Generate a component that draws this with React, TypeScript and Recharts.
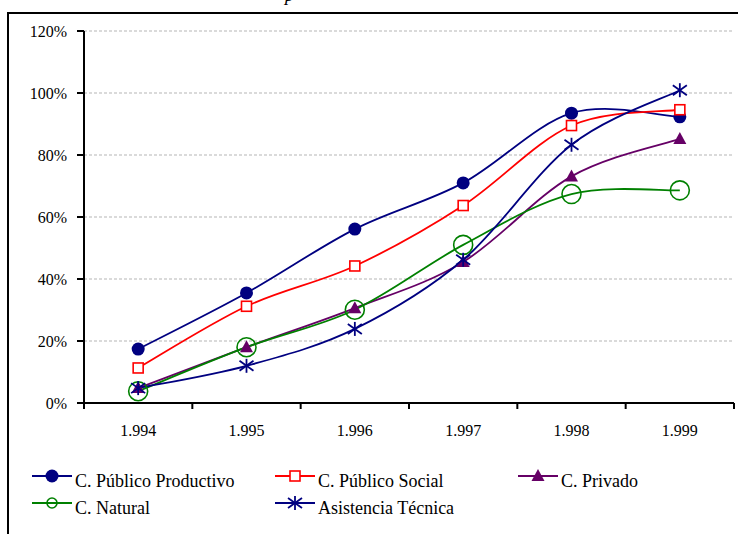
import React from 'react'
import { LineChart, Line, XAxis, YAxis, CartesianGrid, Legend } from 'recharts'

// values, in percent
const years = ['1.994', '1.995', '1.996', '1.997', '1.998', '1.999']
const publicoProductivo = [17.4, 35.5, 56.1, 71.0, 93.5, 92.3]
const publicoSocial = [11.3, 31.2, 44.2, 63.7, 89.5, 94.6]
const privado = [4.8, 18.0, 30.6, 45.5, 73.1, 85.2]
const natural = [3.8, 18.0, 30.1, 51.0, 67.4, 68.6]
const asistencia = [4.8, 12.0, 23.9, 46.2, 83.3, 100.9]
const yTicks = [0, 20, 40, 60, 80, 100, 120]

const data = years.map((year, i) => ({
  year,
  pp: publicoProductivo[i],
  ps: publicoSocial[i],
  pr: privado[i],
  na: natural[i],
  at: asistencia[i],
}))

const series = [
  { key: 'pp', name: 'C. Público Productivo', color: '#000080', marker: 'dot' },
  { key: 'ps', name: 'C. Público Social', color: '#FF0000', marker: 'square' },
  { key: 'pr', name: 'C. Privado', color: '#660066', marker: 'triangle' },
  { key: 'na', name: 'C. Natural', color: '#008000', marker: 'ring' },
  { key: 'at', name: 'Asistencia Técnica', color: '#000080', marker: 'star' },
]

const FONT = '"Liberation Serif", "Times New Roman", serif'
const W = 738
const H = 534
const PLOT_LEFT = 84
const PLOT_RIGHT = 734
const PLOT_TOP = 31
const PLOT_BOTTOM = 403
const BAND = (PLOT_RIGHT - PLOT_LEFT) / years.length

// Excel style smoothed line (catmull-rom through the points)
const excelSmooth = (context: any) => {
  let pts: number[][] = []
  return {
    areaStart() {},
    areaEnd() {},
    lineStart() {
      pts = []
    },
    point(x: number, y: number) {
      pts.push([+x, +y])
    },
    lineEnd() {
      const n = pts.length
      if (!n) return
      context.moveTo(pts[0][0], pts[0][1])
      for (let i = 0; i < n - 1; i++) {
        const p0 = pts[Math.max(i - 1, 0)]
        const p1 = pts[i]
        const p2 = pts[i + 1]
        const p3 = pts[Math.min(i + 2, n - 1)]
        context.bezierCurveTo(
          p1[0] + (p2[0] - p0[0]) / 6,
          p1[1] + (p2[1] - p0[1]) / 6,
          p2[0] - (p3[0] - p1[0]) / 6,
          p2[1] - (p3[1] - p1[1]) / 6,
          p2[0],
          p2[1]
        )
      }
    },
  }
}

const Marker = ({ kind, cx, cy, color, legend }: any) => {
  if (cx == null || cy == null) return null
  switch (kind) {
    case 'dot':
      return <circle cx={cx} cy={cy} r={6.5} fill={color} />
    case 'square':
      return <rect x={cx - 5} y={cy - 5} width={10} height={10} fill="#fff" stroke={color} strokeWidth={1.6} />
    case 'triangle':
      return <polygon points={`${cx},${cy - 7} ${cx - 6.5},${cy + 5} ${cx + 6.5},${cy + 5}`} fill={color} />
    case 'ring':
      return <circle cx={cx} cy={cy} r={legend ? 5 : 9.5} fill="none" stroke={color} strokeWidth={1.6} />
    case 'star':
      return (
        <g stroke={color} strokeWidth={1.8}>
          <line x1={cx} y1={cy - 7} x2={cx} y2={cy + 7} />
          <line x1={cx - 7} y1={cy - 5} x2={cx + 7} y2={cy + 5} />
          <line x1={cx - 7} y1={cy + 5} x2={cx + 7} y2={cy - 5} />
        </g>
      )
    default:
      return null
  }
}

const XTick = ({ x, y, payload, index }: any) => (
  <g>
    <line x1={x - BAND / 2} x2={x - BAND / 2} y1={PLOT_BOTTOM} y2={PLOT_BOTTOM + 6} stroke="#000" strokeWidth={2} />
    {index === years.length - 1 && (
      <line x1={x + BAND / 2} x2={x + BAND / 2} y1={PLOT_BOTTOM} y2={PLOT_BOTTOM + 6} stroke="#000" strokeWidth={2} />
    )}
    <text x={x} y={y} dy="0.71em" textAnchor="middle" fontSize={16} fontFamily={FONT} fill="#000">
      {payload.value}
    </text>
  </g>
)

const legendSlots = [
  { x: 32, row: 0 },
  { x: 275, row: 0 },
  { x: 518, row: 0 },
  { x: 32, row: 1 },
  { x: 275, row: 1 },
]

// legend keeps the series order, not the order recharts hands over
const LegendBox = ({ payload }: any) => (
  <svg width={W} height={60} style={{ display: 'block' }}>
    {series.map((s, i) => {
      const entry = (payload || []).find((p: any) => p.dataKey === s.key)
      const color = entry?.color || s.color
      const slot = legendSlots[i]
      const ly = 16 + slot.row * 27
      return (
        <g key={s.key}>
          <line x1={slot.x} x2={slot.x + 40} y1={ly} y2={ly} stroke={color} strokeWidth={1.8} />
          <Marker kind={s.marker} cx={slot.x + 20} cy={ly} color={color} legend />
          <text x={slot.x + 43} y={ly + 11} fontSize={18} fontFamily={FONT} fill="#000">
            {s.name}
          </text>
        </g>
      )
    })}
  </svg>
)

export default function App() {
  return (
    <div style={{ position: 'fixed', left: 0, top: 0, width: W, height: H, overflow: 'hidden', background: '#fff' }}>
      {/* title of the figure, cut off by the top edge */}
      <svg width={W} height={12} style={{ position: 'absolute', left: 0, top: 0 }}>
        <text x={285} y={1} fontSize={18} fontStyle="italic" fontFamily={FONT} fill="#000">
          p
        </text>
      </svg>
      <div
        style={{
          position: 'absolute',
          left: 7,
          top: 12,
          width: 800,
          height: 600,
          border: '2px solid #000',
        }}
      />
      <div style={{ position: 'absolute', left: 0, top: 0 }}>
        <LineChart
          width={W}
          height={H}
          data={data}
          margin={{ top: PLOT_TOP, right: W - PLOT_RIGHT, left: 0, bottom: 0 }}
        >
          <CartesianGrid vertical={false} stroke="#b5b5b5" strokeDasharray="3 2" />
          <XAxis
            dataKey="year"
            height={H - PLOT_BOTTOM}
            padding={{ left: BAND / 2, right: BAND / 2 }}
            axisLine={{ stroke: '#000', strokeWidth: 2 }}
            tickLine={false}
            tickSize={6}
            tickMargin={16}
            interval={0}
            tick={<XTick />}
          />
          <YAxis
            domain={[0, 120]}
            ticks={yTicks}
            interval={0}
            width={PLOT_LEFT}
            tickFormatter={(v: number) => `${v}%`}
            axisLine={{ stroke: '#000', strokeWidth: 2 }}
            tickLine={{ stroke: '#000', strokeWidth: 2 }}
            tickSize={7}
            tickMargin={10}
            tick={{ fontSize: 16, fontFamily: FONT, fill: '#000' }}
          />
          <Legend
            layout="horizontal"
            verticalAlign="middle"
            align="center"
            wrapperStyle={{ left: 0, top: 460, width: W, height: 60 }}
            content={<LegendBox />}
          />
          {series.map((s) => (
            <Line
              key={s.key}
              dataKey={s.key}
              name={s.name}
              type={excelSmooth as any}
              stroke={s.color}
              strokeWidth={1.8}
              isAnimationActive={false}
              activeDot={false}
              dot={(props: any) => (
                <Marker key={`${s.key}-${props.index}`} kind={s.marker} cx={props.cx} cy={props.cy} color={s.color} />
              )}
            />
          ))}
        </LineChart>
      </div>
    </div>
  )
}
